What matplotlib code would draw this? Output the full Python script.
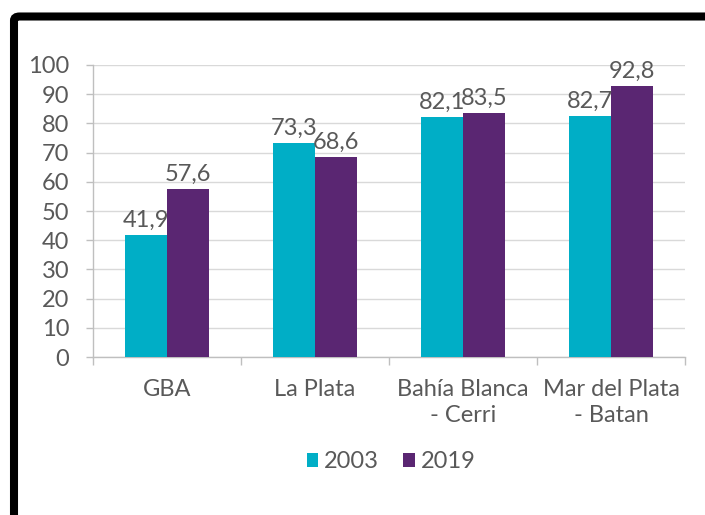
import matplotlib.pyplot as plt
from matplotlib.patches import FancyBboxPatch
import numpy as np

# tasa por aglomerado, 2003 vs 2019
regions = ['GBA', 'La Plata', 'Bahía Blanca\n- Cerri', 'Mar del Plata\n- Batan']
vals_2003 = [41.9, 73.3, 82.1, 82.7]
vals_2019 = [57.6, 68.6, 83.5, 92.8]
years = ['2003', '2019']

c_2003 = '#00AEC6'
c_2019 = '#5A2672'
txt = '#595959'
fs = 17

plt.rcParams['font.family'] = ['Lato', 'DejaVu Sans']

fig = plt.figure(figsize=(7.05, 5.15), dpi=100)
ax = fig.add_axes([93/705, 1 - 357/515, 592/705, 292/515])

x = np.arange(len(regions))
w = 0.285
b1 = ax.bar(x - w/2, vals_2003, w, color=c_2003, label=years[0], zorder=3)
b2 = ax.bar(x + w/2, vals_2019, w, color=c_2019, label=years[1], zorder=3)

def fmt(v):
    return ('%.1f' % v).replace('.', ',')

for bars, vals in [(b1, vals_2003), (b2, vals_2019)]:
    for r, v in zip(bars, vals):
        ax.annotate(fmt(v), (r.get_x() + r.get_width()/2, v), xytext=(0, 3),
                    textcoords='offset points', ha='center', va='bottom',
                    fontsize=fs, color=txt)

ax.set_xlim(-0.5, len(regions) - 0.5)
ax.set_ylim(0, 100)
ax.set_yticks(range(0, 101, 10))
ax.grid(axis='y', color='#D9D9D9', linewidth=1, zorder=0)

ax.set_xticks(x)
ax.set_xticklabels(regions, linespacing=1.3)
ax.set_xticks(np.arange(-0.5, len(regions)), minor=True)
ax.tick_params(axis='x', which='major', length=0, pad=16, labelsize=fs, labelcolor=txt)
ax.tick_params(axis='x', which='minor', length=6, color='#BFBFBF', width=1)
ax.tick_params(axis='y', length=5, color='#BFBFBF', width=1, pad=12, labelsize=fs, labelcolor=txt)

for s in ['top', 'right']:
    ax.spines[s].set_visible(False)
for s in ['left', 'bottom']:
    ax.spines[s].set_color('#BFBFBF')
    ax.spines[s].set_linewidth(1)

fig.legend(loc='center', bbox_to_anchor=(391/705, 1 - 462/515), ncol=2, frameon=False,
           fontsize=fs, labelcolor=txt, handlelength=0.5, handleheight=0.5,
           handletextpad=0.25, columnspacing=1.0)

# marco negro
frame = FancyBboxPatch((14/705, -0.2), 1.2, 0.2 + 1 - 16.5/515,
                       boxstyle='round,pad=0,rounding_size=0.008',
                       transform=fig.transFigure, fill=False,
                       edgecolor='black', linewidth=5.8, zorder=10)
fig.patches.append(frame)

fig.savefig('out.png', dpi=100)
